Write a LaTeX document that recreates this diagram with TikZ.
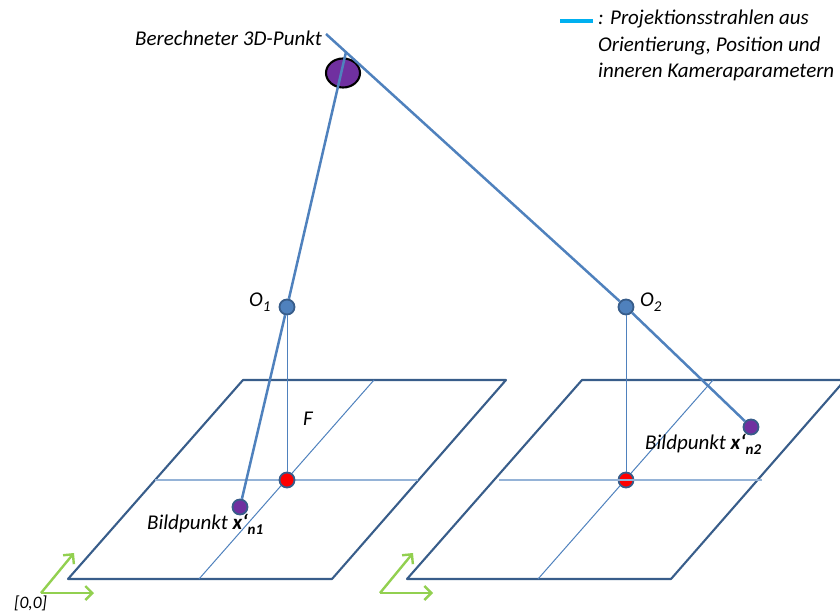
\documentclass[tikz,border=0pt]{standalone}
\usepackage{fontspec}
\setmainfont{Carlito}
\usetikzlibrary{arrows.meta, shapes.geometric}
\definecolor{frameblue}{HTML}{385D8A}
\definecolor{rayblue}{HTML}{4F81BD}
\definecolor{crossblue}{HTML}{95B3D7}
\definecolor{legendblue}{HTML}{00B0F0}
\definecolor{axisgreen}{HTML}{92D050}
\definecolor{pointpurple}{HTML}{7030A0}
\newcommand{\lowsub}[1]{\raisebox{-5pt}{\fontsize{15}{15}\selectfont #1}}
\tikzset{
  planeframe/.style={draw=frameblue, line width=2.1pt, line join=round},
  ray/.style={draw=rayblue, line width=2.5pt},
  crossh/.style={draw=crossblue, line width=1.6pt},
  crossd/.style={draw=rayblue, line width=1pt},
  focal/.style={draw=rayblue, line width=0.9pt},
  axis/.style={draw=axisgreen, line width=2.4pt, -{Straight Barb[length=7pt,width=14pt]}},
  dot/.style={circle, draw=frameblue, line width=1.8pt, minimum size=15pt, inner sep=0pt},
  txt/.style={font=\fontsize{21}{26}\selectfont\itshape, inner sep=0pt}
}
\begin{document}
\begin{tikzpicture}[x=1pt, y=-1pt]
        \useasboundingbox (0,0) rectangle (840,612);

        % image plane 1
        \coordinate (A1) at (243,380);
        \coordinate (B1) at (506,380);
        \coordinate (C1) at (332,579);
        \coordinate (D1) at (68,579);
        \coordinate (H1) at (155,480);
        \coordinate (I1) at (418,480);
        \coordinate (J1) at (199,579);
        \coordinate (K1) at (374,380);

        % image plane 2
        \coordinate (A2) at (582,380);
        \coordinate (B2) at (845,380);
        \coordinate (C2) at (671,579);
        \coordinate (D2) at (407,579);
        \coordinate (H2) at (499,480);
        \coordinate (I2) at (762,480);
        \coordinate (J2) at (538,579);
        \coordinate (K2) at (713,380);

        % ray ends
        \coordinate (R1) at (346,52);
        \coordinate (R2) at (326,34);

        \draw[planeframe] (A1) -- (B1) -- (C1) -- (D1) -- cycle;
        \draw[planeframe] (A2) -- (B2) -- (C2) -- (D2) -- cycle;
        \draw[crossd] (J1) -- (K1);
        \draw[crossd] (J2) -- (K2);
        \draw[crossh] (H1) -- (I1);

        \node[ellipse, draw=black, line width=2.1pt, fill=pointpurple, minimum width=34pt, minimum height=29pt, inner sep=0pt] (P) at (343,73) {};
        \node[dot, fill=rayblue] (O1) at (287,307) {};
        \node[dot, fill=rayblue] (O2) at (626,307) {};
        \node[dot, fill=red] (M1) at (287,480) {};
        \node[dot, fill=red] (M2) at (626,480) {};
        \node[dot, fill=pointpurple] (X1) at (240,507) {};
        \node[dot, fill=pointpurple] (X2) at (751,427) {};

        \draw[crossh] (H2) -- (I2);
        \draw[focal] (O1) -- (M1);
        \draw[focal] (O2) -- (M2);
        \draw[ray] (R1) -- (O1) -- (X1);
        \draw[ray] (R2) -- (O2) -- (X2);

        % axes
        \coordinate (S1) at (41,593);
        \coordinate (S2) at (380,593);
        \coordinate (U1) at (74,553);
        \coordinate (V1) at (94,593);
        \coordinate (U2) at (413,553);
        \coordinate (V2) at (433,593);
        \draw[axis] (S1) -- (U1);
        \draw[axis] (S1) -- (V1);
        \draw[axis] (S2) -- (U2);
        \draw[axis] (S2) -- (V2);

        % legend
        \coordinate (L1) at (560,21);
        \coordinate (L2) at (593,21);
        \draw[draw=legendblue, line width=3.5pt] (L1) -- (L2);

        \node[txt, anchor=west] (legend) at (598,46) {\begin{tabular}{@{}l@{}}: Projektionsstrahlen aus\\[0.5pt]Orientierung, Position und\\[0.5pt]inneren Kameraparametern\end{tabular}};
        \node[txt, anchor=east] (berechnet) at (322,38) {Berechneter 3D-Punkt};
        \node[txt, anchor=west] (o1) at (249,302) {O\lowsub{1}};
        \node[txt, anchor=west] (o2) at (640,302) {O\lowsub{2}};
        \node[txt] (f) at (308,419) {F};
        \node[txt, anchor=west] (b1) at (147,524) {Bildpunkt \textbf{x‘}\lowsub{\textbf{n1}}};
        \node[txt, anchor=west] (b2) at (645,444) {Bildpunkt \textbf{x‘}\lowsub{\textbf{n2}}};
        \node[txt, font=\fontsize{17.5}{20}\selectfont\itshape, anchor=west] (origin) at (14,603) {[0,0]};
      \end{tikzpicture}
\end{document}
